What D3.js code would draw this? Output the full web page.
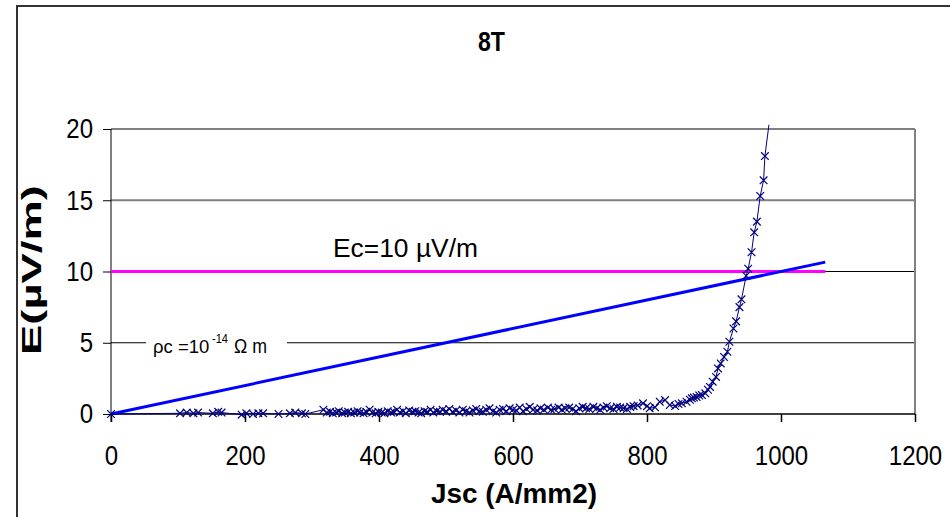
<!DOCTYPE html>
<html>
<head>
<meta charset="utf-8">
<script src="https://cdn.jsdelivr.net/npm/d3@7"></script>
<style>
  body { margin: 0; background: #fff; }
  svg text { font-family: "Liberation Sans", Arial, sans-serif; fill: #000; }
  .tick text { font-size: 24px; }
  .axis path { display: none; }
</style>
</head>
<body>
<svg id="chart" width="950" height="517"></svg>
<script>
// measured points, Jsc (A/mm2) and E (uV/m)
const jsc = [0, 103, 113, 123, 130, 152, 160, 165, 195, 202, 212, 220, 227, 250, 267, 275, 285, 290,
  317, 322, 327, 331, 336, 340, 345, 349, 354, 358, 363, 368, 372, 377, 381, 386, 390, 395, 399,
  404, 408, 413, 418, 422, 427, 431, 436, 440, 445, 450, 454, 459, 463, 468, 472, 477, 481, 486,
  491, 495, 500, 505, 510, 515, 520, 525, 530, 535, 540, 545, 550, 555, 560, 565, 570, 575, 580,
  585, 590, 595, 600, 605, 610, 615, 620, 625, 630, 636, 641, 646, 652, 657, 662, 668, 673, 678,
  684, 689, 694, 699, 704, 709, 714, 720, 725, 730, 735, 740, 745, 750, 755, 760, 765, 770, 775,
  780, 786, 794, 800, 804, 812, 819, 827, 834, 842, 847, 852, 859, 864, 867, 870, 874, 878, 882,
  887, 891, 894, 898, 903, 906, 910, 915, 920, 923, 929, 933, 938, 941, 948, 951, 956, 960, 964,
  969, 974, 976, 982];
const eField = [0, 0.05, 0.1, 0.05, 0.1, 0.05, 0.15, 0.1, -0.05, 0.05, 0, 0.05, 0.05, 0, 0.05, 0.1, 0.05, 0,
  0.3, 0.1, 0.15, 0.05, 0.1, 0.2, 0.05, 0.1, 0.15, 0.05, 0.1, 0.2, 0.1, 0.05, 0.15, 0.3, 0.1, 0.05, 0.15,
  0.1, 0.05, 0.2, 0.1, 0.15, 0.3, 0.1, 0.2, 0.05, 0.25, 0.15, 0.2, 0.1, 0.05, 0.2, 0.15, 0.3, 0.1, 0.2,
  0.15, 0.3, 0.2, 0.35, 0.15, 0.25, 0.1, 0.3, 0.2, 0.1, 0.25, 0.35, 0.2, 0.15, 0.3, 0.4, 0.2, 0.1, 0.3,
  0.35, 0.2, 0.4, 0.3, 0.25, 0.45, 0.2, 0.35, 0.5, 0.3, 0.25, 0.4, 0.3, 0.45, 0.3, 0.35, 0.45, 0.3, 0.4,
  0.45, 0.35, 0.2, 0.4, 0.5, 0.4, 0.35, 0.5, 0.4, 0.3, 0.45, 0.55, 0.4, 0.35, 0.5, 0.45, 0.4, 0.35, 0.5,
  0.55, 0.6, 0.75, 0.55, 0.4, 0.47, 0.86, 0.98, 0.63, 0.56, 0.7, 0.75, 0.86, 1.0, 1.1, 1.15, 1.2, 1.3, 1.33,
  1.45, 1.7, 1.9, 2.27, 2.6, 3.2, 3.55, 4.0, 4.37, 5.07, 6.0, 6.5, 7.5, 8.05, 9.7, 10.2, 11.35, 12.75, 13.5,
  15.3, 16.4, 18.1, 20.3];

// resistive line rho_c = 1e-14 Ohm m, and critical field
const rhoLineJ = [0, 1066];
const rhoLineE = [0, 10.66];
const ecLineJ = [0, 1066];
const ecValue = 10;

const xTicks = [0, 200, 400, 600, 800, 1000, 1200];
const yTicks = [0, 5, 10, 15, 20];

const svg = d3.select("#chart");

const xScale = d3.scaleLinear().domain([0, 1200]).range([111, 915]);
const yScale = d3.scaleLinear().domain([0, 20]).range([414, 129]);

// outer frame
svg.append("rect")
    .attr("x", 17).attr("y", 6)
    .attr("width", 960).attr("height", 540)
    .attr("fill", "none")
    .attr("stroke", "#333")
    .attr("stroke-width", 2);

// gridlines
svg.append("g")
    .selectAll("line")
    .data(yTicks.filter(d => d > 0))
    .enter()
    .append("line")
    .attr("x1", xScale(0))
    .attr("x2", xScale(1200))
    .attr("y1", d => yScale(d))
    .attr("y2", d => yScale(d))
    .attr("stroke", d => d >= 15 ? "#808080" : "#000")
    .attr("stroke-width", d => d >= 15 ? 2 : 1);

// right border of plot area
svg.append("line")
    .attr("x1", xScale(1200)).attr("x2", xScale(1200))
    .attr("y1", yScale(20)).attr("y2", yScale(0))
    .attr("stroke", "#808080")
    .attr("stroke-width", 2);

// rho_c label with white box over the 5 gridline
svg.append("rect")
    .attr("x", 146).attr("y", yScale(5) - 8)
    .attr("width", 141).attr("height", 16)
    .attr("fill", "#fff");
svg.append("text")
    .attr("x", 153).attr("y", 353)
    .style("font-size", "18.5px")
    .text("\u03c1c =10");
svg.append("text")
    .attr("x", 212).attr("y", 343)
    .attr("textLength", 16)
    .attr("lengthAdjust", "spacingAndGlyphs")
    .style("font-size", "13px")
    .text("-14");
svg.append("text")
    .attr("x", 234).attr("y", 353)
    .attr("textLength", 33)
    .attr("lengthAdjust", "spacingAndGlyphs")
    .style("font-size", "20px")
    .text("\u03a9 m");

// axes
const xAxis = svg.append("g")
    .attr("class", "axis")
    .attr("transform", `translate(0, ${yScale(0)})`)
    .call(d3.axisBottom(xScale).tickValues(xTicks).tickSize(8).tickFormat(d3.format("d")));
xAxis.selectAll(".tick line").attr("stroke", "#000").attr("stroke-width", 1.5);
xAxis.selectAll(".tick text")
    .attr("y", 26.5)
    .attr("transform", "scale(1, 1.17)");

const yAxis = svg.append("g")
    .attr("class", "axis")
    .attr("transform", `translate(${xScale(0)}, 0)`)
    .call(d3.axisLeft(yScale).tickValues(yTicks).tickSize(8).tickPadding(10));
yAxis.selectAll(".tick text")
    .attr("transform", "scale(1, 1.17)");

svg.append("line")
    .attr("x1", xScale(0)).attr("x2", xScale(1200))
    .attr("y1", yScale(0)).attr("y2", yScale(0))
    .attr("stroke", "#000").attr("stroke-width", 1.5);
svg.append("line")
    .attr("x1", xScale(0)).attr("x2", xScale(0))
    .attr("y1", yScale(20)).attr("y2", yScale(0) + 8)
    .attr("stroke", "#000").attr("stroke-width", 1);

// Ec line
svg.append("line")
    .attr("x1", xScale(ecLineJ[0])).attr("x2", xScale(ecLineJ[1]))
    .attr("y1", yScale(ecValue)).attr("y2", yScale(ecValue))
    .attr("stroke", "#ff00ff")
    .attr("stroke-width", 3);

// rho_c line
svg.append("line")
    .attr("x1", xScale(rhoLineJ[0])).attr("x2", xScale(rhoLineJ[1]))
    .attr("y1", yScale(rhoLineE[0])).attr("y2", yScale(rhoLineE[1]))
    .attr("stroke", "#0000ff")
    .attr("stroke-width", 3);

// measured E-J curve
const points = jsc.map((j, i) => ({ j: j, e: eField[i] }));

svg.append("clipPath").attr("id", "plotClip")
    .append("rect")
    .attr("x", xScale(0)).attr("y", yScale(20) - 5)
    .attr("width", xScale(1200) - xScale(0))
    .attr("height", yScale(0) - yScale(20) + 10);

const line = d3.line().x(d => xScale(d.j)).y(d => yScale(d.e));

svg.append("path")
    .datum(points)
    .attr("clip-path", "url(#plotClip)")
    .attr("d", line)
    .attr("fill", "none")
    .attr("stroke", "#000080")
    .attr("stroke-width", 1);

svg.append("g")
    .selectAll("path")
    .data(points.filter(d => d.e <= 19))
    .enter()
    .append("path")
    .attr("transform", d => `translate(${xScale(d.j)}, ${yScale(d.e)})`)
    .attr("d", d3.symbol(d3.symbolX, 40))
    .attr("fill", "none")
    .attr("stroke", "#000080")
    .attr("stroke-width", 1.2);

// texts
svg.append("text")
    .attr("x", 333)
    .attr("y", 257)
    .attr("textLength", 145)
    .attr("lengthAdjust", "spacingAndGlyphs")
    .style("font-size", "25px")
    .text("Ec=10 \u00b5V/m");

svg.append("text")
    .attr("x", 478)
    .attr("y", 51)
    .attr("textLength", 27)
    .attr("lengthAdjust", "spacingAndGlyphs")
    .style("font-size", "27px")
    .style("font-weight", "bold")
    .text("8T");

svg.append("text")
    .attr("x", 431)
    .attr("y", 503)
    .attr("textLength", 166)
    .attr("lengthAdjust", "spacingAndGlyphs")
    .style("font-size", "28px")
    .style("font-weight", "bold")
    .text("Jsc (A/mm2)");

svg.append("text")
    .attr("transform", "translate(41, 355) rotate(-90)")
    .attr("textLength", 170)
    .attr("lengthAdjust", "spacingAndGlyphs")
    .style("font-size", "27px")
    .style("font-weight", "bold")
    .text("E(\u00b5V/m)");
</script>
</body>
</html>
